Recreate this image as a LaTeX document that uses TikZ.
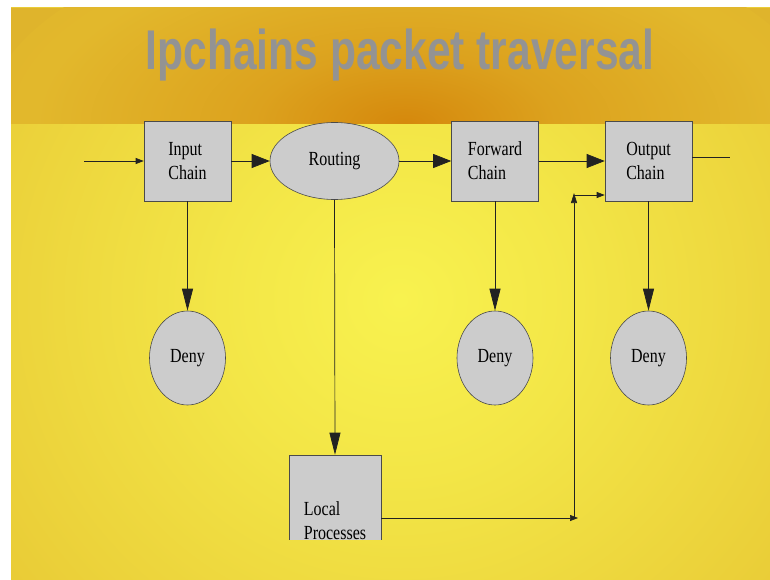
\documentclass[tikz,border=0pt]{standalone}
\usepackage{fontspec}
\setmainfont{Liberation Serif}
\newfontfamily\lblfont[FakeStretch=0.8]{Liberation Serif}
\newfontfamily\titlefont[FakeStretch=0.76]{Liberation Sans}
\usetikzlibrary{arrows.meta,shapes.geometric}
\definecolor{boxfill}{HTML}{CCCCCC}
\definecolor{edgecol}{HTML}{4A4A4A}
\definecolor{wirecol}{HTML}{222222}
\definecolor{titlegray}{HTML}{939393}
\definecolor{bgA}{HTML}{F8F24F}
\definecolor{bgB}{HTML}{F3E647}
\definecolor{bgC}{HTML}{E9CB36}
\definecolor{bgD}{HTML}{DDAE28}
\definecolor{bgE}{HTML}{D49E28}
\definecolor{orA}{HTML}{D5880C}
\definecolor{orB}{HTML}{DCA21E}
\definecolor{orC}{HTML}{E2B82C}
\definecolor{orD}{HTML}{DFB42C}
\pgfdeclareradialshading{slidebg}{\pgfpointorigin}{color(0bp)=(bgA); color(8bp)=(bgB); color(22bp)=(bgC); color(36bp)=(bgD); color(50bp)=(bgE)}
\pgfdeclareradialshading{bandbg}{\pgfpointorigin}{color(0bp)=(orA); color(9bp)=(orB); color(22bp)=(orC); color(34bp)=(orD); color(50bp)=(orD)}
\tikzset{
  lbl/.style={font=\lblfont\fontsize{20}{24}\selectfont, text=black},
  chainbox/.style={lbl, draw=edgecol, line width=0.6pt, fill=boxfill, minimum width=87pt, minimum height=80pt, inner sep=0pt, align=left},
  routeshape/.style={lbl, ellipse, draw=edgecol, line width=0.6pt, fill=boxfill, minimum width=129pt, minimum height=77pt, inner sep=0pt},
  denyshape/.style={lbl, ellipse, draw=edgecol, line width=0.6pt, fill=boxfill, minimum width=76pt, minimum height=94pt, inner sep=0pt},
  wire/.style={draw=wirecol, line width=0.7pt},
  bigh/.style={wire, -{Triangle[length=18pt,width=14pt]}},
  bigv/.style={wire, -{Triangle[length=22pt,width=11pt]}},
  smallh/.style={wire, -{Triangle[length=8pt,width=6pt]}},
  smallv/.style={wire, -{Triangle[length=10pt,width=6pt]}},
}
\begin{document}
\begin{tikzpicture}[x=1pt,y=-1pt]
\useasboundingbox (0,0) rectangle (770,580);
\fill[white] (0,0) rectangle (770,580);
% slide background
\begin{scope}
  \clip (11,8) rectangle (770,580);
  \shade[shading=slidebg] (400,300) ellipse (560 and 540);
\end{scope}
% top band
\begin{scope}
  \clip (11,8) rectangle (770,124);
  \fill[orD] (11,8) rectangle (770,124);
  \shade[shading=bandbg] (405,124) ellipse (420 and 200);
\end{scope}
% title
\node[font=\titlefont\bfseries\fontsize{56}{60}\selectfont, text=titlegray, anchor=base] (title) at (400,70) {Ipchains packet traversal};
% nodes
\node[chainbox] (inchain) at (187.5,161) {Input\\Chain};
\node[routeshape] (routing) at (334.5,161) {Routing};
\node[chainbox] (fwd) at (495,161) {Forward\\Chain};
\node[chainbox] (outc) at (648.5,161) {Output\\Chain};
\node[denyshape] (deny1) at (187.5,358) {Deny};
\node[denyshape] (deny2) at (495,358) {Deny};
\node[denyshape] (deny3) at (648.5,358) {Deny};
\begin{scope}
  \clip (0,0) rectangle (770,539);
  \node[chainbox, minimum width=92pt, minimum height=132pt] (local) at (335,521) {Local\\Processes};
\end{scope}
% connectors
\coordinate (src) at (84,161);
\coordinate (sink) at (730,157);
\coordinate (jlow) at (574,518);
\coordinate (jhigh) at (574,195);
\draw[smallh] (src) -- (inchain.west);
\draw[bigh] (inchain.east) -- (routing.west);
\draw[bigh] (routing.east) -- (fwd.west);
\draw[bigh] (fwd.east) -- (outc.west);
\draw[wire] (outc.east |- sink) -- (sink);
\draw[bigv] (inchain.south) -- (deny1.north);
\draw[bigv] (fwd.south) -- (deny2.north);
\draw[bigv] (outc.south) -- (deny3.north);
\draw[bigv] (routing.south) -- (local.north);
\draw[smallh] (local.east |- jlow) -- ([xshift=4pt]jlow);
\draw[smallv] (jlow) -- ([yshift=2pt]jhigh);
\draw[smallh] (jhigh) -- (outc.west |- jhigh);
\end{tikzpicture}
\end{document}
